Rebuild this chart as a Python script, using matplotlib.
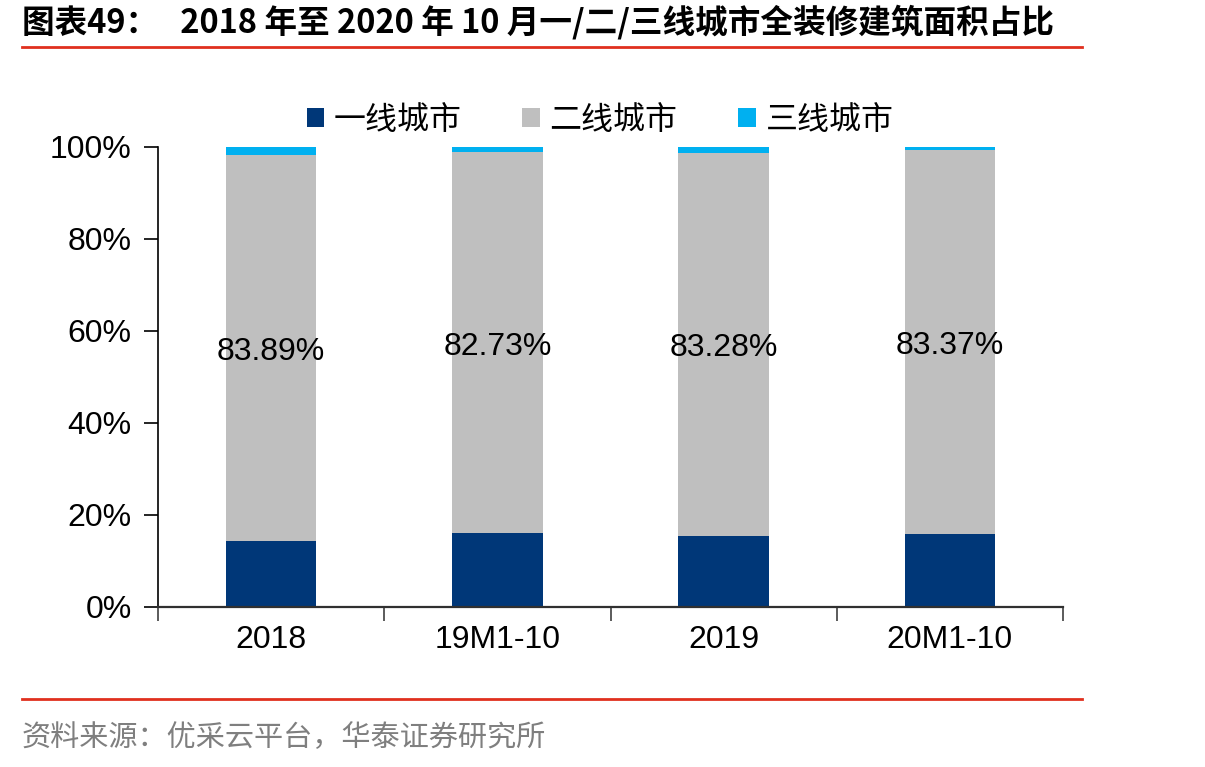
import matplotlib
matplotlib.use("Agg")
import matplotlib.pyplot as plt
from matplotlib.lines import Line2D
import numpy as np

categories = ["2018", "19M1-10", "2019", "20M1-10"]
tier1 = [14.4, 16.1, 15.5, 15.9]
tier2 = [83.89, 82.73, 83.28, 83.37]
tier3 = [1.71, 1.17, 1.22, 0.73]
series_names = ["一线城市", "二线城市", "三线城市"]
colors = ["#003778", "#BFBFBF", "#00B0F0"]
yticks = [0, 20, 40, 60, 80, 100]
title = "图表49：   2018 年至 2020 年 10 月一/二/三线城市全装修建筑面积占比"
source = "资料来源：优采云平台，华泰证券研究所"

W, H = 1205, 767
fig = plt.figure(figsize=(W / 100, H / 100), dpi=100)
cjk = ["Noto Sans CJK SC", "DejaVu Sans"]
num = ["Liberation Sans", "DejaVu Sans"]
fs = 23

ax = fig.add_axes([158 / W, 1 - 607 / H, (1063 - 158) / W, (607 - 147) / H])
x = np.arange(len(categories))
bw = 0.40
b1 = ax.bar(x, tier1, bw, color=colors[0], label=series_names[0])
b2 = ax.bar(x, tier2, bw, bottom=tier1, color=colors[1], label=series_names[1])
bottom3 = [a + b for a, b in zip(tier1, tier2)]
b3 = ax.bar(x, tier3, bw, bottom=bottom3, color=colors[2], label=series_names[2])

for i in range(len(categories)):
    ax.annotate(f"{tier2[i]:.2f}%", (x[i], tier1[i] + tier2[i] / 2), xytext=(0, -3),
                textcoords="offset points", ha="center", va="center",
                fontsize=fs, family=num, color="black")

ax.set_xlim(-0.5, len(categories) - 0.5)
ax.set_ylim(0, 100)
ax.set_yticks(yticks)
ax.set_yticklabels([f"{v}%" for v in yticks], fontsize=fs, family=num)
ax.set_xticks(x)
ax.set_xticklabels(categories, fontsize=fs, family=num)
ax.tick_params(axis="x", which="major", length=0, pad=13)
ax.set_xticks(np.arange(-0.5, len(categories), 1.0), minor=True)
ax.tick_params(axis="x", which="minor", length=10, width=1.2, color="#404040", direction="out")
ax.tick_params(axis="y", length=10, width=1.2, direction="out", pad=9)
for s in ["top", "right"]:
    ax.spines[s].set_visible(False)
ax.spines["left"].set_linewidth(1.2)
ax.spines["bottom"].set_linewidth(1.6)
ax.spines["bottom"].set_color("#303030")

handles = [b1, b2, b3]
leg = fig.legend(handles, series_names, loc="center", bbox_to_anchor=(600 / W, 1 - 120 / H),
                 ncol=3, frameon=False, prop={"family": cjk, "size": 23},
                 handlelength=0.55, handleheight=0.55, handletextpad=0.3, columnspacing=1.9)

fig.text(22 / W, 1 - 22 / H, title, fontsize=23.5, fontweight="bold", family=cjk,
         ha="left", va="center")
fig.add_artist(Line2D([22 / W, 1082 / W], [1 - 47 / H, 1 - 47 / H], color="#E0301E", lw=2))
fig.add_artist(Line2D([22 / W, 1082 / W], [1 - 699 / H, 1 - 699 / H], color="#E0301E", lw=2))
fig.text(22 / W, 1 - 738 / H, source, fontsize=21, family=cjk, color="#7F7F7F",
         ha="left", va="center")

fig.savefig("out.png", dpi=100)
